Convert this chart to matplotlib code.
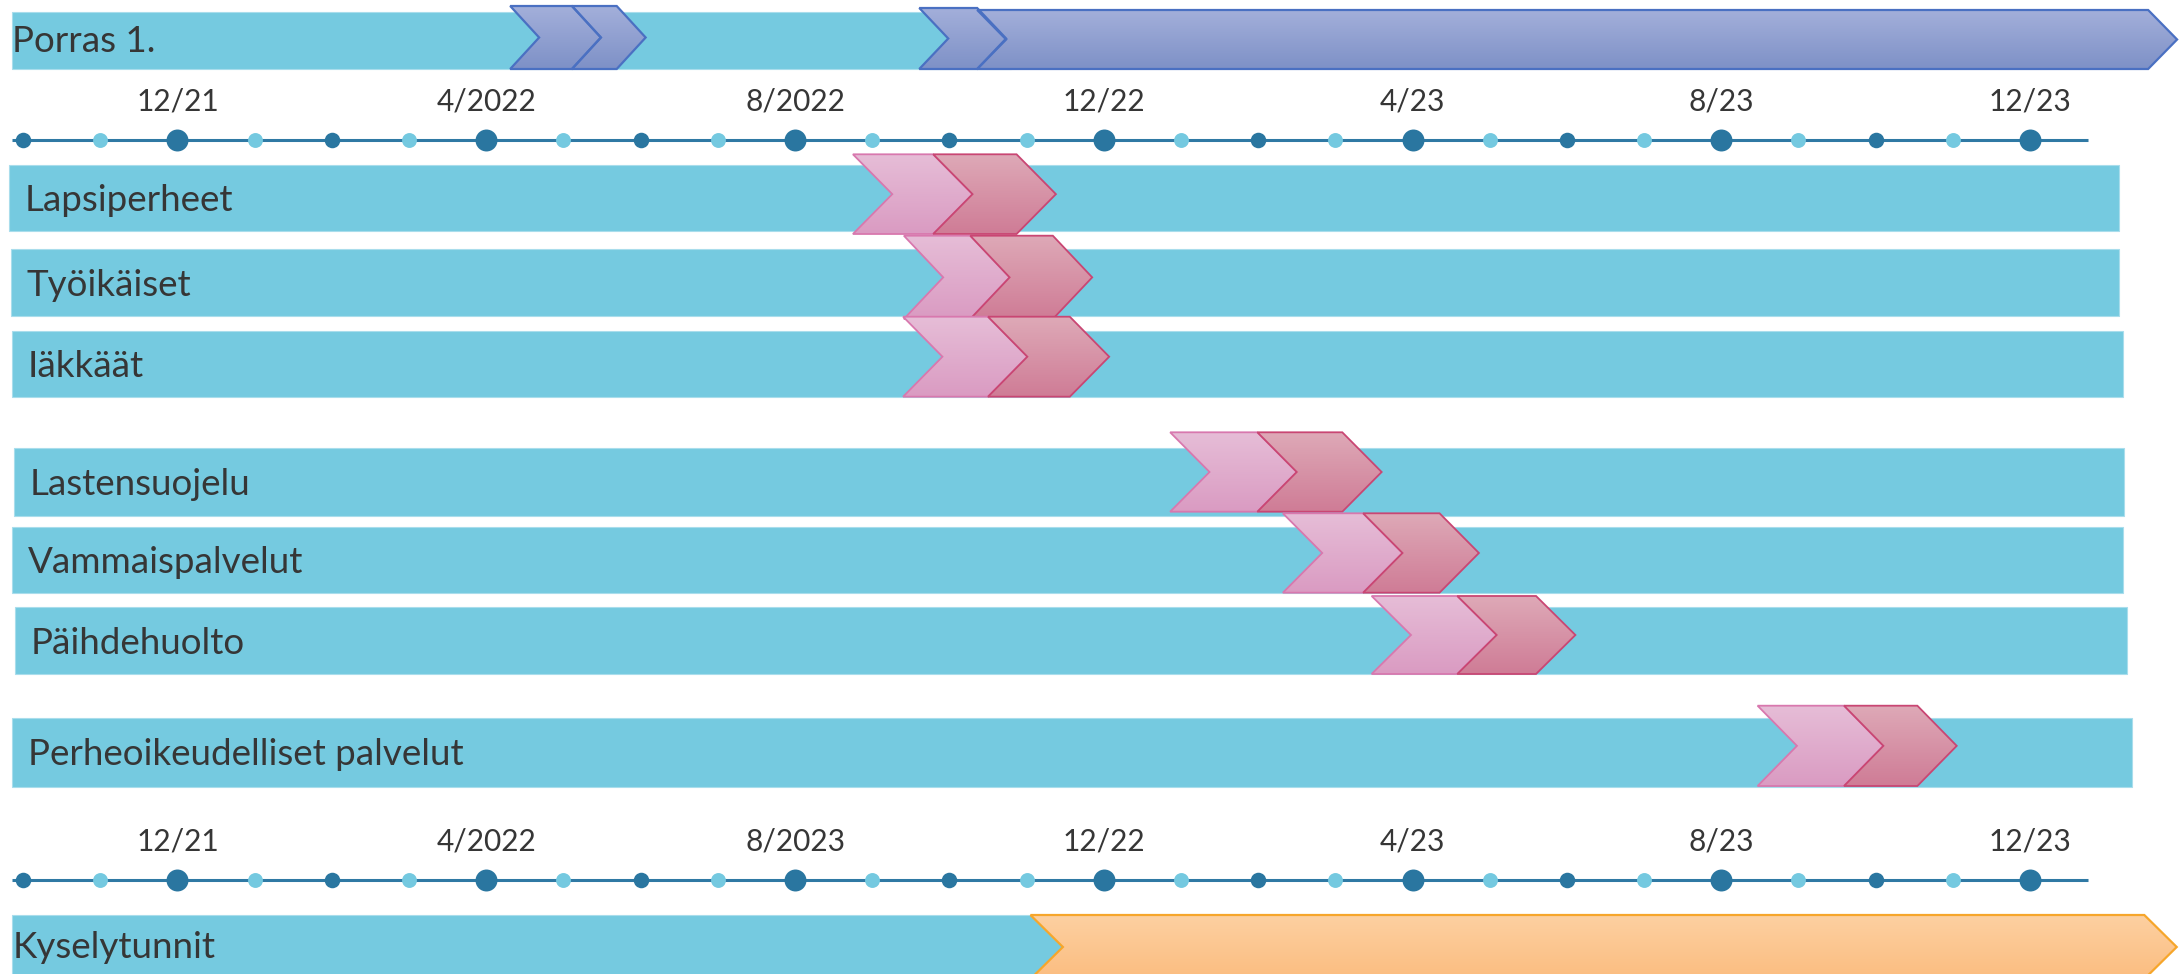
import numpy as np
import matplotlib
matplotlib.use("Agg")
import matplotlib.pyplot as plt
from matplotlib.patches import Polygon, Rectangle
from matplotlib.colors import to_rgba

# ---------------- data (x = months since 12/2021) ----------------
tick_months = [0, 4, 8, 12, 16, 20, 24]
top_tick_labels = ["12/21", "4/2022", "8/2022", "12/22", "4/23", "8/23", "12/23"]
bottom_tick_labels = ["12/21", "4/2022", "8/2023", "12/22", "4/23", "8/23", "12/23"]
dot_months = list(range(-2, 25))
timeline_start = -2.15
timeline_end = 24.75

porras_label = "Porras 1."
porras_bar_start = -2.14
porras_bar_end = 10.8
porras_step_start = [4.31, 5.11, 9.61, 10.36]
porras_step_end = [5.11, 5.69, 10.36, 25.53]

phase_rows = ["Lapsiperheet", "Työikäiset", "Iäkkäät", "Lastensuojelu",
              "Vammaispalvelut", "Päihdehuolto", "Perheoikeudelliset palvelut"]
bar_start = [-2.18, -2.16, -2.14, -2.12, -2.14, -2.10, -2.14]
bar_end = [25.15, 25.15, 25.20, 25.22, 25.20, 25.25, 25.32]
prep_start = [8.75, 9.41, 9.40, 12.86, 14.32, 15.47, 20.47]
impl_start = [9.79, 10.27, 10.50, 13.99, 15.36, 16.58, 21.59]
impl_end = [10.87, 11.34, 11.56, 15.09, 16.35, 17.60, 22.54]

kysely_label = "Kyselytunnit"
kysely_bar_start = -2.14
kysely_bar_end = 11.5
kysely_step_start = 11.05
kysely_step_end = 25.48

# ---------------- layout / style ----------------
W, H = 2179, 974
PX_PER_MONTH = 77.19
X0_PX = 177.5
XLIM = (-X0_PX / PX_PER_MONTH, (W - X0_PX) / PX_PER_MONTH)

row_bar_y = [(164.5, 231), (249.3, 315.7), (331, 397), (448.3, 516),
             (527.3, 593.3), (606.7, 674.3), (718.3, 786.5)]
row_chev_y = [(154.3, 234), (235.7, 319), (316.7, 396.7), (432.3, 511.7),
              (513.3, 592.7), (596, 674), (705.7, 786)]
porras_bar_y = (11.7, 69)
porras_step_y = [(6, 69), (6, 69), (8, 69), (10, 69)]
kysely_bar_y = (915, 979)
kysely_step_y = (915, 979)
top_line_y, top_label_base = 140, 111
bot_line_y, bot_label_base = 880, 850

CYAN = "#75CAE0"
CYAN_EDGE = "#A9DDEC"
TEXT = "#363636"
LINE = "#2F79A4"
DARK_DOT = "#2A76A0"
LIGHT_DOT = "#74C9E0"
FONT = ["Lato", "DejaVu Sans"]

TIP_PINK = 0.51
TIP_BLUE = 0.375
TIP_ORANGE = 0.42

fig = plt.figure(figsize=(W / 100, H / 100), dpi=100)
ax = fig.add_axes([0, 0, 1, 1])
ax.set_xlim(*XLIM)
ax.set_ylim(H, 0)
ax.axis("off")


def shape_pts(x0, x1, top, bottom, tip, notch=True):
    c = (top + bottom) / 2
    pts = [(x0, top), (x1, top), (x1 + tip, c), (x1, bottom), (x0, bottom)]
    if notch:
        pts.append((x0 + tip, c))
    return pts


def grad_shape(pts, c_top, c_bot, edge, lw, z):
    poly = Polygon(pts, closed=True, facecolor="none", edgecolor=edge, lw=lw,
                   joinstyle="miter", zorder=z + 0.1)
    ax.add_patch(poly)
    xs = [p[0] for p in pts]
    ys = [p[1] for p in pts]
    t = np.linspace(0, 1, 64)[:, None]
    a = np.array(to_rgba(c_top))
    b = np.array(to_rgba(c_bot))
    img = (a * (1 - t) + b * t)[:, None, :]
    im = ax.imshow(img, extent=(min(xs), max(xs), max(ys), min(ys)), origin="upper",
                   aspect="auto", interpolation="bilinear", zorder=z)
    im.set_clip_path(poly)


def cyan_bar(x0, x1, yb):
    ax.add_patch(Rectangle((x0, yb[0]), x1 - x0, yb[1] - yb[0], facecolor=CYAN,
                           edgecolor=CYAN_EDGE, lw=0.8, zorder=1))


LABEL_SIZE = 26.5
TICK_SIZE = 21.5

# ---- Porras row ----
cyan_bar(porras_bar_start, porras_bar_end, porras_bar_y)
for s, e, yy in zip(porras_step_start, porras_step_end, porras_step_y):
    grad_shape(shape_pts(s, e, yy[0], yy[1], TIP_BLUE), "#A3AFDA", "#7E91C7", "#4A70C2", 1.6, 3)
ax.text(porras_bar_start + 0.0, sum(porras_bar_y) / 2 + 12, porras_label, fontsize=LABEL_SIZE,
        color=TEXT, family=FONT, ha="left", va="baseline", zorder=6)

# ---- timelines ----
for line_y, base_y, labels in [(top_line_y, top_label_base, top_tick_labels),
                               (bot_line_y, bot_label_base, bottom_tick_labels)]:
    ax.plot([timeline_start, timeline_end], [line_y, line_y], color=LINE, lw=2.2, zorder=2,
            solid_capstyle="butt")
    big = [m for m in dot_months if m % 4 == 0]
    small = [m for m in dot_months if m % 4 == 2]
    light = [m for m in dot_months if m % 2 != 0]
    ax.scatter(big, [line_y] * len(big), s=250, color=DARK_DOT, zorder=3, linewidths=0)
    ax.scatter(small, [line_y] * len(small), s=125, color=DARK_DOT, zorder=3, linewidths=0)
    ax.scatter(light, [line_y] * len(light), s=115, color=LIGHT_DOT, zorder=3, linewidths=0)
    for m, lab in zip(tick_months, labels):
        ax.text(m, base_y, lab, fontsize=TICK_SIZE, color=TEXT, family=FONT,
                ha="center", va="baseline", zorder=6)

# ---- phase rows ----
for i in range(len(phase_rows)):
    cyan_bar(bar_start[i], bar_end[i], row_bar_y[i])
for i, name in enumerate(phase_rows):
    ct, cb = row_chev_y[i]
    grad_shape(shape_pts(prep_start[i], impl_start[i], ct, cb, TIP_PINK),
               "#E6BDD7", "#DA9BC2", "#D878AE", 1.3, 3 + i * 0.3)
    grad_shape(shape_pts(impl_start[i], impl_end[i], ct, cb, TIP_PINK),
               "#DEA9B7", "#CF7C96", "#C94673", 1.3, 3.15 + i * 0.3)
    ax.text(bar_start[i] + 0.2, sum(row_bar_y[i]) / 2 + 13, name, fontsize=LABEL_SIZE,
            color=TEXT, family=FONT, ha="left", va="baseline", zorder=6)

# ---- Kyselytunnit row ----
cyan_bar(kysely_bar_start, kysely_bar_end, kysely_bar_y)
grad_shape(shape_pts(kysely_step_start, kysely_step_end, kysely_step_y[0], kysely_step_y[1], TIP_ORANGE),
           "#FDD0A1", "#FBBD80", "#F6A62B", 1.6, 3)
ax.text(kysely_bar_start + 0.0, 946.5 + 11, kysely_label, fontsize=LABEL_SIZE,
        color=TEXT, family=FONT, ha="left", va="baseline", zorder=6)

ax.set_xlim(*XLIM)
ax.set_ylim(H, 0)
fig.savefig("out.png", dpi=100)
